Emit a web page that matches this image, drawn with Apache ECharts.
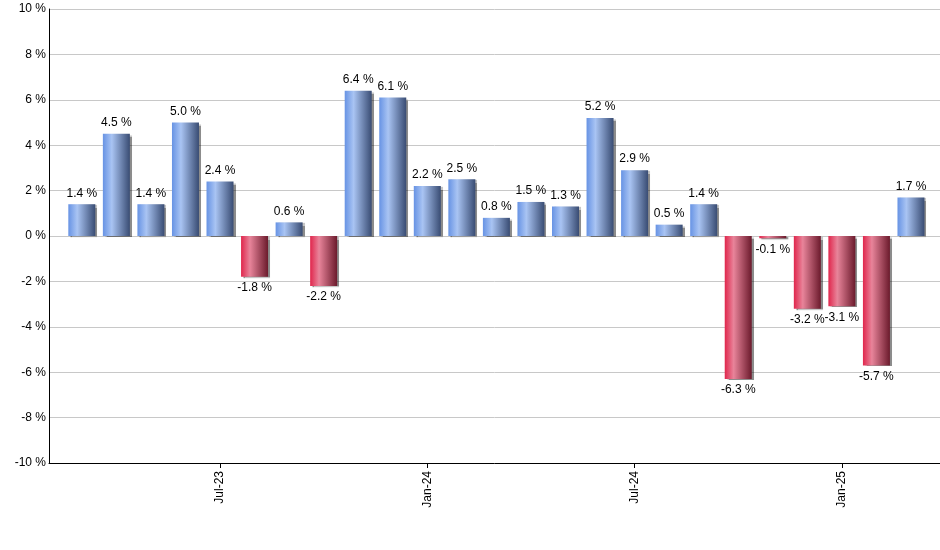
<!DOCTYPE html>
<html>
<head>
<meta charset="utf-8">
<script src="https://cdn.jsdelivr.net/npm/echarts@6/dist/echarts.min.js"></script>
<style>
html,body{margin:0;padding:0;background:#fff;}
#c{width:940px;height:550px;}
</style>
</head>
<body>
<div id="c"></div>
<script>
const categories = ['Mar-23','Apr-23','May-23','Jun-23','Jul-23','Aug-23','Sep-23','Oct-23','Nov-23','Dec-23',
  'Jan-24','Feb-24','Mar-24','Apr-24','May-24','Jun-24','Jul-24','Aug-24','Sep-24','Oct-24','Nov-24','Dec-24',
  'Jan-25','Feb-25','Mar-25'];
const values = [1.4, 4.5, 1.4, 5.0, 2.4, -1.8, 0.6, -2.2, 6.4, 6.1, 2.2, 2.5, 0.8, 1.5, 1.3, 5.2, 2.9, 0.5, 1.4,
  -6.3, -0.1, -3.2, -3.1, -5.7, 1.7];
const tickLabels = ['Jul-23','Jan-24','Jul-24','Jan-25'];
const yTicks = [-10,-8,-6,-4,-2,0,2,4,6,8,10];

const tickIdx = tickLabels.map(t => categories.indexOf(t));
const font = '"Liberation Sans", Arial, sans-serif';

const blue = new echarts.graphic.LinearGradient(0,0,1,0,[
  {offset:0,color:'#6793e4'},{offset:0.33,color:'#a9c4f3'},{offset:1,color:'#394c73'}]);
const red = new echarts.graphic.LinearGradient(0,0,1,0,[
  {offset:0,color:'#e0264c'},{offset:0.33,color:'#e8849a'},{offset:1,color:'#6b1a2c'}]);

const chart = echarts.init(document.getElementById('c'), null, {renderer:'canvas'});
chart.setOption({
  animation:false,
  backgroundColor:'#fff',
  grid:{left:49,right:0,top:9,bottom:87},
  xAxis:{
    type:'value', min:-0.95, max:24.84,
    splitLine:{show:false},
    axisLine:{show:true,onZero:false,lineStyle:{color:'#000',width:1}},
    axisTick:{show:true,customValues:tickIdx,length:5,lineStyle:{color:'#000'}},
    axisLabel:{show:true,customValues:tickIdx,rotate:90,margin:8,color:'#000',fontSize:12,fontFamily:font,
      formatter:v=>categories[Math.round(v)]}
  },
  yAxis:{
    type:'value', min:yTicks[0], max:yTicks[yTicks.length-1], interval:2,
    axisLine:{show:true,onZero:false,lineStyle:{color:'#000',width:1}},
    axisTick:{show:false},
    splitLine:{show:true,lineStyle:{color:'#c8c8c8',width:1}},
    axisLabel:{color:'#000',fontSize:12,fontFamily:font,margin:3,formatter:v=>v+' %'}
  },
  series:[{
    type:'bar',
    barWidth:27,
    data:values.map((v,i)=>({
      value:[i,v],
      itemStyle:{color:v>=0?blue:red},
      label:{position:v>=0?'top':'bottom'}
    })),
    itemStyle:{shadowColor:'rgba(0,0,0,0.45)',shadowOffsetX:2,shadowOffsetY:1,shadowBlur:1},
    label:{show:true,distance:5,color:'#000',fontSize:12,fontFamily:font,
      formatter:p=>p.value[1].toFixed(1)+' %'}
  }]
});
</script>
</body>
</html>
